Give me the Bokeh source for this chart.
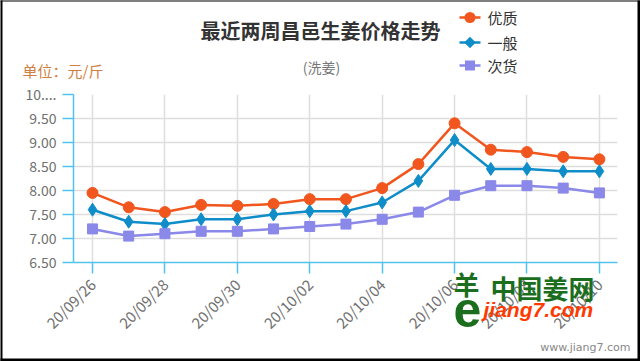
import math
from bokeh.plotting import figure
from bokeh.models import FixedTicker, Range1d
from bokeh.core.properties import value
from bokeh.embed import file_html
from bokeh.resources import INLINE

# ---- data ----
dates = ["20/09/26", "20/09/27", "20/09/28", "20/09/29", "20/09/30",
         "20/10/01", "20/10/02", "20/10/03", "20/10/04", "20/10/05",
         "20/10/06", "20/10/07", "20/10/08", "20/10/09", "20/10/10"]
youzhi = [7.95, 7.65, 7.55, 7.70, 7.68, 7.72, 7.82, 7.82, 8.05, 8.55, 9.40, 8.85, 8.80, 8.70, 8.65]
yiban = [7.60, 7.35, 7.30, 7.40, 7.40, 7.50, 7.57, 7.57, 7.75, 8.20, 9.05, 8.45, 8.45, 8.40, 8.40]
cihuo = [7.20, 7.05, 7.10, 7.15, 7.15, 7.20, 7.25, 7.30, 7.40, 7.55, 7.90, 8.10, 8.10, 8.05, 7.95]
series_names = ["优质", "一般", "次货"]
y_ticks = [6.5, 7.0, 7.5, 8.0, 8.5, 9.0, 9.5, 10.0]
y_tick_labels = ["6.50", "7.00", "7.50", "8.00", "8.50", "9.00", "9.50", "10...."]

title_text = "最近两周昌邑生姜价格走势"
subtitle_text = "(洗姜)"
unit_text = "单位：元/斤"

CJK = "Noto Sans CJK SC"
AXIS_C = "#4fc3ee"
GRID_C = "#dedede"
LABEL_C = "#707070"

xs = list(range(len(dates)))

FL, FR, FT, FB = 73, 617, 94, 262          # frame edges in page pixels
X0, X1, Y0, Y1 = -0.525, 14.5, 6.5, 10.0

p = figure(width=640, height=361, output_backend="svg", toolbar_location=None,
           x_range=Range1d(X0, X1), y_range=Range1d(Y0, Y1),
           min_border_left=FL, min_border_right=640 - FR, min_border_top=FT,
           min_border_bottom=361 - FB)
p.outline_line_color = None

x_tick_idx = xs[::2]
p.xaxis.ticker = FixedTicker(ticks=x_tick_idx)
p.xaxis.major_label_overrides = {i: dates[i] for i in x_tick_idx}
p.xaxis.major_label_orientation = math.pi / 4
p.yaxis.ticker = FixedTicker(ticks=y_ticks)
p.yaxis.major_label_overrides = {t: l for t, l in zip(y_ticks, y_tick_labels)}
for ax in (p.xaxis, p.yaxis):
    ax.axis_line_color = AXIS_C
    ax.axis_line_width = 1.5
    ax.major_tick_line_color = AXIS_C
    ax.major_tick_line_width = 1.5
    ax.major_tick_out = 11
    ax.major_tick_in = 0
    ax.minor_tick_line_color = None
    ax.major_label_text_color = LABEL_C
    ax.major_label_text_font = CJK
p.yaxis.major_label_text_font_size = "14px"
p.yaxis.major_label_standoff = 6
p.xaxis.major_label_text_font_size = "15px"
p.xaxis.major_label_standoff = 8

p.xgrid.ticker = FixedTicker(ticks=x_tick_idx)
p.ygrid.ticker = FixedTicker(ticks=y_ticks)
for g in (p.xgrid, p.ygrid):
    g.grid_line_color = GRID_C
    g.grid_line_width = 1.5

PXX = (X1 - X0) / (FR - FL)   # data units per pixel (x)
PXY = (Y1 - Y0) / (FB - FT)   # data units per pixel (y)


def dx(px):
    return X0 + (px - FL) * PXX


def dy(py):
    return Y1 - (py - FT) * PXY


def txt(px, py, s, size, color, align="left", font=CJK, style="normal"):
    p.text(x=[dx(px)], y=[dy(py)], text=[s], text_font=value(font),
           text_font_size=size, text_font_style=style, text_color=color,
           text_align=align, text_baseline="middle", level="overlay")


def seg(pxs, pys, color, width, cap="butt"):
    p.line([dx(v) for v in pxs], [dy(v) for v in pys], line_color=color,
           line_width=width, line_cap=cap, level="overlay")


colors = ["#f0561d", "#0f8dc9", "#8a88e8"]
markers = ["circle", "diamond", "square"]
sizes = [11, 13, 10]
legend_rows = [17, 42, 65]
for name, ys, c, m, s, ry in zip(series_names, [youzhi, yiban, cihuo], colors,
                                 markers, sizes, legend_rows):
    p.line(xs, ys, line_color=c, line_width=2.5)
    p.scatter(xs, ys, marker=m, size=s, fill_color=c, line_color=c)
    # legend swatch: line + marker shape
    cx = 469.5
    seg([459, 480], [ry, ry], c, 2.5)
    if m == "circle":
        seg([cx - 0.01, cx + 0.01], [ry, ry], c, 11, "round")
    elif m == "square":
        seg([cx - 5, cx + 5], [ry, ry], c, 10)
    else:
        seg([cx - 2.9, cx + 2.9], [ry + 2.9, ry - 2.9], c, 8.2)
    txt(487, ry, name, "15px", "#333333")

txt(320, 30, title_text, "20px", "#333333", "center", style="bold")
txt(321, 66, subtitle_text, "14px", "#777777", "center")
txt(22, 70, unit_text, "15px", "#cf7f42")
# watermark
txt(466, 283, "羊", "26px", "#1b6e1e", "center", style="bold")
txt(467, 309, "e", "50px", "#1b6e1e", "center", font="Liberation Sans", style="bold")
txt(490, 287, "中国姜网", "26px", "#1b6e1e", style="bold")
txt(483, 309, "jiang7.com", "21px", "#ff3a00", font="Liberation Sans", style="bold italic")
txt(630, 347, "www.jiang7.com", "11px", "#888888", "right", font="DejaVu Sans")

# image frame border
seg([1, 1], [0, 361], "#000000", 2)
seg([0, 640], [0.5, 0.5], "#000000", 1)
seg([638.5, 638.5], [0, 361], "#000000", 3)
seg([0, 640], [359.5, 359.5], "#000000", 3)

open("out.html", "w").write(file_html(p, INLINE))
